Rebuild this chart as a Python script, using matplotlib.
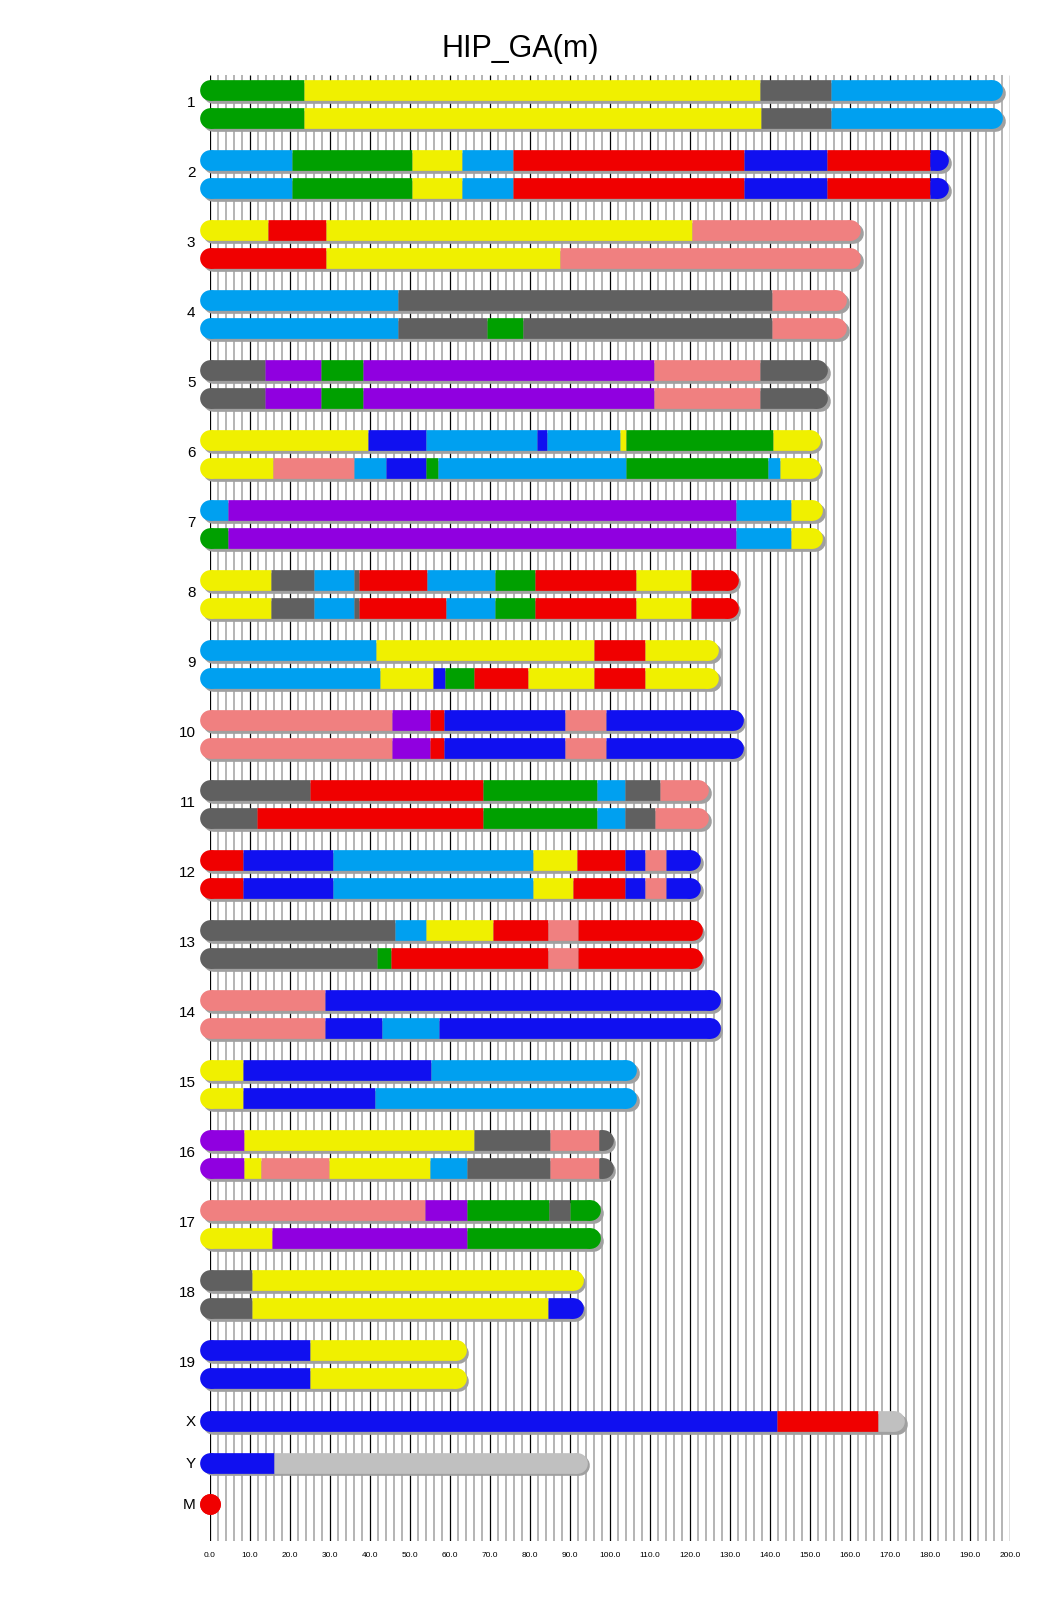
import matplotlib
matplotlib.use('Agg')
import matplotlib.pyplot as plt
from matplotlib.transforms import offset_copy

plt.rcParams['font.family'] = ['Liberation Sans', 'DejaVu Sans']

# ---------------- data ----------------
chrom_names = ['1', '2', '3', '4', '5', '6', '7', '8', '9', '10', '11', '12', '13',
               '14', '15', '16', '17', '18', '19', 'X', 'Y', 'M']
chrom_lengths = [195.5, 182.1, 160.0, 156.5, 151.8, 149.9, 150.5, 129.4, 124.6, 130.7,
                 122.1, 120.1, 120.4, 124.9, 104.0, 98.2, 95.0, 90.7, 61.4, 171.0, 91.7, 0.016]

# colour codes
palette = {
    'G': '#00a000',  # green
    'Y': '#f0f000',  # yellow
    'D': '#606060',  # dark grey
    'L': '#00a0f0',  # light blue
    'R': '#f00000',  # red
    'B': '#1010f0',  # blue
    'S': '#f08080',  # salmon
    'P': '#9000e0',  # purple
    'N': '#c0c0c0',  # light grey
}

# each haplotype: (colour codes, breakpoints in Mb; last segment ends at chromosome end)
chr1 = [("GYDL", [23.5, 137.5, 155.25]),
        ("GYDL", [23.5, 137.7, 155.25])]
chr2 = [("LGYLRBRB", [20.5, 50.4, 63.0, 75.8, 133.5, 154.3, 180.0]),
        ("LGYLRBRB", [20.5, 50.4, 63.0, 75.8, 133.5, 154.3, 180.0])]
chr3 = [("YRYS", [14.6, 29.1, 120.6]),
        ("RYS", [29.1, 87.5])]
chr4 = [("LDS", [47.0, 140.6]),
        ("LDGDS", [47.0, 69.2, 78.2, 140.6])]
chr5 = [("DPGPSD", [13.8, 27.7, 38.2, 110.9, 137.4]),
        ("DPGPSD", [13.8, 27.7, 38.2, 110.9, 137.4])]
chr6 = [("YBLBLYGY", [39.5, 54.0, 81.8, 84.3, 102.5, 104.0, 140.7]),
        ("YSLBGLGLY", [15.8, 36.0, 44.0, 54.0, 57.0, 104.0, 139.5, 142.5])]
chr7 = [("LPLY", [4.5, 131.5, 145.2]),
        ("GPLY", [4.5, 131.5, 145.2])]
chr8 = [("YDLDRLGRYR", [15.3, 26.0, 36.0, 37.3, 54.2, 71.3, 81.3, 106.6, 120.3]),
        ("YDLDRLGRYR", [15.3, 26.0, 36.0, 37.3, 59.0, 71.3, 81.3, 106.6, 120.3])]
chr9 = [("LYRY", [41.5, 96.1, 108.7]),
        ("LYBGRYRY", [42.5, 55.8, 58.7, 66.0, 79.5, 96.0, 108.7])]
chr10 = [("SPRBSB", [45.4, 54.9, 58.6, 88.7, 98.9]),
         ("SPRBSB", [45.4, 54.9, 58.6, 88.7, 98.9])]
chr11 = [("DRGLDS", [25.0, 68.3, 96.8, 103.75, 112.5]),
         ("DRGLDS", [11.8, 68.3, 96.8, 103.75, 111.3])]
chr12 = [("RBLYRBSB", [8.3, 30.8, 80.8, 91.7, 103.8, 108.8, 114.0]),
         ("RBLYRBSB", [8.3, 30.8, 80.8, 90.8, 103.8, 108.8, 114.0])]
chr13 = [("DLYRSR", [46.25, 54.0, 70.75, 84.5, 92.0]),
         ("DGRSR", [41.8, 45.25, 84.5, 92.0])]
chr14 = [("SB", [28.75]),
         ("SBLB", [28.7, 42.9, 57.3])]
chr15 = [("YBL", [8.3, 55.2]),
         ("YBL", [8.3, 41.3])]
chr16 = [("PYDSD", [8.5, 66.1, 85.0, 97.2]),
         ("PYSYLDSD", [8.5, 12.8, 29.8, 55.0, 64.2, 85.0, 97.2])]
chr17 = [("SPGDG", [53.75, 64.25, 84.8, 90.0]),
         ("YPG", [15.5, 64.25])]
chr18 = [("DY", [10.6]),
         ("DYB", [10.6, 84.4])]
chr19 = [("BY", [25.0]),
         ("BY", [25.0])]
chrX = [("BRN", [141.8, 167.1])]
chrY = [("BN", [16.0])]
chrM = [("R", [])]

haplotypes = [chr1, chr2, chr3, chr4, chr5, chr6, chr7, chr8, chr9, chr10, chr11,
              chr12, chr13, chr14, chr15, chr16, chr17, chr18, chr19, chrX, chrY, chrM]

x_ticks = list(range(0, 201, 10))

# ---------------- layout ----------------
W, H = 1040, 1616
fig = plt.figure(figsize=(W / 100, H / 100), dpi=100)
grid_top, grid_bot = 75, 1541
ax = fig.add_axes([210 / W, 1 - grid_bot / H, 800 / W, (grid_bot - grid_top) / H])
ax.set_xlim(0, 200)
ax.set_ylim(grid_bot, grid_top)
for s in ax.spines.values():
    s.set_visible(False)

# grid
minor = [v for v in range(0, 201, 2) if v % 10]
major = [v for v in range(0, 201, 2) if v % 10 == 0]
ax.vlines(minor, grid_top, grid_bot, colors='#a0a0a0', lw=1.1, zorder=1)
ax.vlines(major, grid_top, grid_bot, colors='#000000', lw=0.9, zorder=1)

# y positions of the rows
centers = []
for i in range(19):
    centers.append(104.3 + 70 * i)
centers += [1421.0, 1462.5, 1503.7]

BAR = 20.7 * 72 / 100  # bar thickness in points
SHADOW = '#a0a0a0'
shadow_tr = offset_copy(ax.transData, fig=fig, x=2.5, y=-2.5, units='dots')


def draw_bar(y, codes, breaks, length):
    ends = list(breaks) + [length]
    ax.plot([0, length], [y, y], color=SHADOW, lw=BAR, solid_capstyle='round',
            transform=shadow_tr, clip_on=False, zorder=3)
    ax.plot([0], [y], 'o', ms=BAR, mew=0, color=palette[codes[0]], clip_on=False, zorder=4)
    ax.plot([length], [y], 'o', ms=BAR, mew=0, color=palette[codes[-1]], clip_on=False, zorder=4)
    start = 0
    for c, e in zip(codes, ends):
        ax.plot([start, e], [y, y], color=palette[c], lw=BAR, solid_capstyle='butt',
                clip_on=False, zorder=5)
        start = e


for name, length, haps, yc in zip(chrom_names, chrom_lengths, haplotypes, centers):
    if len(haps) == 2:
        ys = [yc - 14, yc + 14]
    else:
        ys = [yc]
    for (codes, breaks), y in zip(haps, ys):
        draw_bar(y, codes, breaks, length)

# chromosome labels (pair labels sit slightly above the pair centre)
label_y = [c - 3 if i < 19 else c for i, c in enumerate(centers)]
ax.set_yticks(label_y, labels=chrom_names)
ax.tick_params(axis='y', length=0, pad=10.5, labelsize=11)
ax.set_xticks(x_ticks, labels=[f'{v:.1f}' for v in x_ticks])
ax.tick_params(axis='x', length=0, pad=8, labelsize=6)

fig.text(0.5, 1 - 49.5 / H, 'HIP_GA(m)', ha='center', va='center', fontsize=22)

fig.savefig('out.png', dpi=100)
